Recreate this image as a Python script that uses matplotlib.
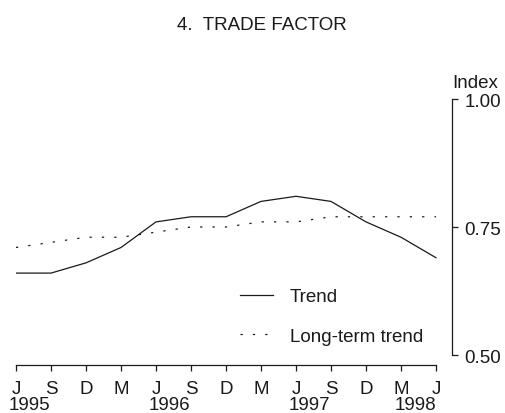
import matplotlib.pyplot as plt
import numpy as np

plt.rcParams['font.family'] = ['Liberation Sans', 'DejaVu Sans']

# quarterly points, June 1995 to June 1998
months = ["J", "S", "D", "M", "J", "S", "D", "M", "J", "S", "D", "M", "J"]
years = ["1995", "1996", "1997", "1998"]
trend = [0.66, 0.66, 0.68, 0.71, 0.76, 0.77, 0.77, 0.80, 0.81, 0.80, 0.76, 0.73, 0.69]
long_term = [0.71, 0.72, 0.73, 0.73, 0.74, 0.75, 0.75, 0.76, 0.76, 0.77, 0.77, 0.77, 0.77]

ink = "#1a1a1a"
fs = 13.5

fig = plt.figure(figsize=(5.05, 4.14), dpi=100)
ax = fig.add_axes([16 / 505, 48 / 414, 436 / 505, 266 / 414])

x = np.arange(len(months))
ax.plot(x, trend, color=ink, lw=0.9, label="Trend")
ax.plot(x, long_term, color=ink, lw=0.9, linestyle=(0, (1.8, 8.1)), label="Long-term trend")

ax.set_xlim(0, 12.457)
ax.set_ylim(0.4805, 1.0)

for s in ["top", "left"]:
    ax.spines[s].set_visible(False)
ax.spines["right"].set_bounds(0.5, 1.0)
ax.spines["bottom"].set_bounds(0, 12)
for s in ["right", "bottom"]:
    ax.spines[s].set_color(ink)
    ax.spines[s].set_linewidth(0.9)

ax.yaxis.tick_right()
ax.set_yticks([0.5, 0.75, 1.0])
ax.set_yticklabels(["0.50", "0.75", "1.00"])
ax.tick_params(axis="y", direction="out", length=4, width=0.9, color=ink,
               labelsize=fs, pad=5, labelcolor=ink)
ax.set_xticks(x)
ax.set_xticklabels(months)
ax.tick_params(axis="x", direction="out", length=4.5, width=0.9, color=ink,
               labelsize=fs, pad=6, labelcolor=ink)

# year labels under the June ticks
tr = ax.get_xaxis_transform()
for i, yr in enumerate(years[:-1]):
    ax.text(i * 4 - 0.2, -0.117, yr, transform=tr, ha="left", va="top",
            fontsize=fs, color=ink)
ax.text(12, -0.117, years[-1], transform=tr, ha="right", va="top",
        fontsize=fs, color=ink)

ax.text(12.457, 1.023, "Index", transform=ax.transData, ha="left",
        va="baseline", fontsize=fs, color=ink, clip_on=False)

fig.text(261.5 / 505, 1 - 30 / 414, "4.  TRADE FACTOR", ha="center",
         va="baseline", fontsize=fs, color=ink)

ax.legend(loc="center left", bbox_to_anchor=(240 / 505, 1 - 317.5 / 414),
          bbox_transform=fig.transFigure, frameon=False, fontsize=fs,
          handlelength=1.76, handletextpad=0.9, labelspacing=1.2,
          borderpad=0, borderaxespad=0, labelcolor=ink)

fig.savefig("out.png", dpi=100)
